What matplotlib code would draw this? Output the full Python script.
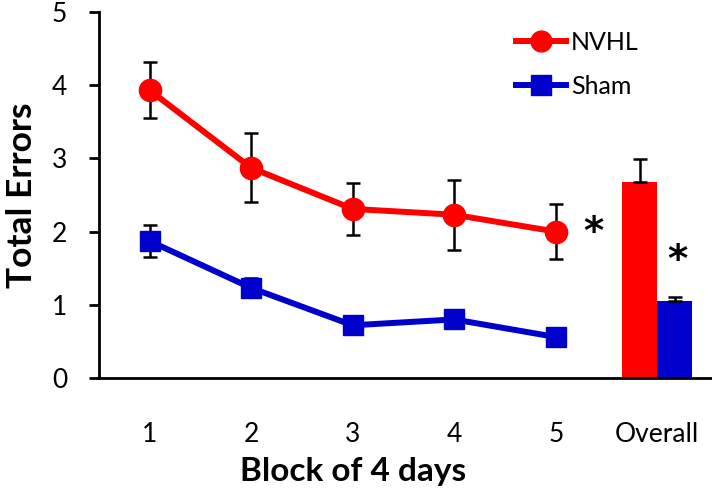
import matplotlib
matplotlib.use("Agg")
import matplotlib.pyplot as plt
from matplotlib.lines import Line2D

plt.rcParams['font.family'] = ['Lato', 'DejaVu Sans']

blocks = [1, 2, 3, 4, 5]
block_labels = ['1', '2', '3', '4', '5']
nvhl = [3.93, 2.87, 2.31, 2.23, 2.00]
nvhl_err = [0.38, 0.47, 0.36, 0.48, 0.38]
sham = [1.87, 1.23, 0.72, 0.80, 0.56]
sham_err = [0.22, 0.13, 0.08, 0.12, 0.06]
overall_x = 6
overall_label = 'Overall'
overall_nvhl = 2.68
overall_nvhl_err = 0.31
overall_sham = 1.05
overall_sham_err = 0.05

red = '#FF0000'
blue = '#0000CC'

fig = plt.figure(figsize=(7.12, 4.99), dpi=100)
ax = fig.add_axes([0.139, 0.2425, 0.8596, 0.7335])

ax.errorbar(blocks, nvhl, yerr=nvhl_err, fmt='none', ecolor='black',
            elinewidth=1.8, capsize=5, capthick=1.8, zorder=2)
ax.errorbar(blocks, sham, yerr=sham_err, fmt='none', ecolor='black',
            elinewidth=1.8, capsize=5, capthick=1.8, zorder=2)
ax.plot(blocks, nvhl, color=red, lw=4.3, marker='o', ms=16, zorder=3)
ax.plot(blocks, sham, color=blue, lw=4.3, marker='s', ms=15, zorder=3)

bw = 0.345
ax.bar(overall_x - bw / 2, overall_nvhl, width=bw, color=red, zorder=2)
ax.bar(overall_x + bw / 2, overall_sham, width=bw, color=blue, zorder=2)
ax.errorbar([overall_x - bw / 2], [overall_nvhl], yerr=[[0], [overall_nvhl_err]],
            fmt='none', ecolor='black', elinewidth=1.8, capsize=5, capthick=1.8, zorder=3)
ax.errorbar([overall_x + bw / 2], [overall_sham], yerr=[[0], [overall_sham_err]],
            fmt='none', ecolor='black', elinewidth=1.8, capsize=5, capthick=1.8, zorder=3)

ax.text(5.37, 1.98, '*', fontsize=28, fontweight='bold', ha='center', va='center',
        family='DejaVu Sans')
ax.text(6.2, 1.6, '*', fontsize=28, fontweight='bold', ha='center', va='center',
        family='DejaVu Sans')

ax.set_xlim(0.5, 6.53)
ax.set_ylim(0, 5)
ax.set_yticks([0, 1, 2, 3, 4, 5])
ax.set_xticks(blocks + [overall_x])
ax.set_xticklabels(block_labels + [overall_label])
ax.tick_params(axis='x', length=0, pad=32, labelsize=19)
ax.tick_params(axis='y', length=7, width=2, direction='out', labelsize=19, pad=16)
for s in ['top', 'right']:
    ax.spines[s].set_visible(False)
for s in ['left', 'bottom']:
    ax.spines[s].set_linewidth(2)

ax.set_ylabel('Total Errors', fontsize=25.5, fontweight='bold', labelpad=10)
ax.text(3, -1.28, 'Block of 4 days', fontsize=24, fontweight='bold',
        ha='center', va='center', transform=ax.transData)

handles = [Line2D([], [], color=red, lw=4.3, marker='o', ms=15),
           Line2D([], [], color=blue, lw=4.3, marker='s', ms=14)]
leg = ax.legend(handles, ['NVHL', 'Sham'], loc='upper left',
                bbox_to_anchor=(0.645, 1.01), frameon=False, fontsize=18,
                handlelength=2.0, handletextpad=0.2, labelspacing=0.85)

fig.savefig('out.png', dpi=100)
